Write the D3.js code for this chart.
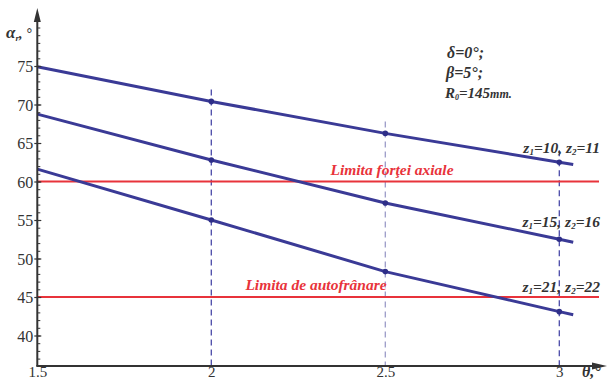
<!DOCTYPE html>
<html>
<head>
<meta charset="utf-8">
<script src="https://cdn.jsdelivr.net/npm/d3@7"></script>
<style>
  html, body { margin: 0; padding: 0; background: #fff; }
  svg { display: block; }
  text { font-family: "Liberation Serif", "DejaVu Serif", serif; }
</style>
</head>
<body>
<svg id="chart" width="610" height="381"></svg>
<script>
// θ values (degrees) at which the angle was computed; last entry is the short run-out past 3
const theta = [1.5, 2, 2.5, 3, 3.04];
// α_r (degrees) for each tooth-number pair
const seriesZ10 = [74.9, 70.4, 66.25, 62.5, 62.2];
const seriesZ15 = [68.75, 62.8, 57.2, 52.5, 52.1];
const seriesZ21 = [61.6, 55.0, 48.3, 43.1, 42.7];
const seriesLabels = [["10", "11"], ["15", "16"], ["21", "22"]];
// horizontal limits
const limitValues = [60, 45];
const limitLabels = ["Limita forţei axiale", "Limita de autofrânare"];
// axis ticks
const xTicks = [1.5, 2, 2.5, 3];
const xTickLabels = ["1.5", "2", "2.5", "3"];
const yTicks = [40, 45, 50, 55, 60, 65, 70, 75];
const yMinor = d3.range(37, 81, 1);
// marked θ positions (dashed guides)
const guideTheta = [2, 2.5, 3];

const svg = d3.select("#chart");
const x = d3.scaleLinear().domain([1.5, 3]).range([37.3, 559.3]);
const y = d3.scaleLinear().domain([40, 75]).range([335.5, 66]);
const axisY0 = 366, axisX0 = 37.3;

const blue = "#3a3a96";
const red = "#e8333b";
const ink = "#333";

// dashed vertical guides
const guideColors = ["#4a4aa8", "#9c9cc8", "#4a4aa8"];
guideTheta.forEach((t, i) => {
  const v = seriesZ10[theta.indexOf(t)];
  svg.append("line")
    .attr("x1", x(t)).attr("x2", x(t))
    .attr("y1", y(v) - 12).attr("y2", axisY0)
    .attr("stroke", guideColors[i]).attr("stroke-width", 1.3)
    .attr("stroke-dasharray", "6,4");
});

// limit lines
limitValues.forEach(v => {
  svg.append("line")
    .attr("x1", axisX0).attr("x2", 599)
    .attr("y1", y(v)).attr("y2", y(v))
    .attr("stroke", red).attr("stroke-width", 2);
});
svg.append("text").attr("x", 392).attr("y", y(limitValues[0]) - 7)
  .attr("text-anchor", "middle").attr("fill", red)
  .attr("font-size", 15.5).attr("font-style", "italic").attr("font-weight", "bold")
  .text(limitLabels[0]);
svg.append("text").attr("x", 316).attr("y", y(limitValues[1]) - 7)
  .attr("text-anchor", "middle").attr("fill", red)
  .attr("font-size", 15.5).attr("font-style", "italic").attr("font-weight", "bold")
  .text(limitLabels[1]);

// series lines
const line = d3.line()
  .x((d, i) => x(theta[i]))
  .y(d => y(d))
  .curve(d3.curveLinear);
const allSeries = [seriesZ10, seriesZ15, seriesZ21];
allSeries.forEach(s => {
  svg.append("path").datum(s)
    .attr("d", line)
    .attr("fill", "none").attr("stroke", blue)
    .attr("stroke-width", 3).attr("stroke-linejoin", "round");
  svg.selectAll(null).data(guideTheta).enter().append("circle")
    .attr("cx", t => x(t)).attr("cy", t => y(s[theta.indexOf(t)]))
    .attr("r", 2.8).attr("fill", "#2e2e88");
});

// series labels (z1=.., z2=..)
const labelY = [153, 227, 292];
seriesLabels.forEach((p, i) => {
  const t = svg.append("text").attr("x", 600).attr("y", labelY[i])
    .attr("text-anchor", "end").attr("fill", ink)
    .attr("font-size", 15.5).attr("font-style", "italic").attr("font-weight", "bold");
  t.append("tspan").text("z");
  t.append("tspan").attr("font-size", 9).attr("dy", 2).text("1");
  t.append("tspan").attr("dy", -2).text("=" + p[0] + ", z");
  t.append("tspan").attr("font-size", 9).attr("dy", 2).text("2");
  t.append("tspan").attr("dy", -2).text("=" + p[1]);
});

// parameter block
const params = svg.append("g").attr("fill", ink)
  .attr("font-style", "italic").attr("font-weight", "bold");
params.append("text").attr("x", 447).attr("y", 58).attr("font-size", 16).text("δ=0°;");
params.append("text").attr("x", 446).attr("y", 78).attr("font-size", 16).text("β=5°;");
const rt = params.append("text").attr("x", 445).attr("y", 98).attr("font-size", 15);
rt.append("tspan").text("R");
rt.append("tspan").attr("font-size", 8).attr("dy", 2).text("0");
rt.append("tspan").attr("dy", -2).text("=145");
rt.append("tspan").attr("font-size", 12).text("mm.");

// axes
svg.append("line").attr("x1", axisX0).attr("x2", axisX0)
  .attr("y1", axisY0).attr("y2", 14).attr("stroke", ink).attr("stroke-width", 2);
svg.append("path").attr("d", `M${axisX0},8 L${axisX0 - 3.5},22 L${axisX0 + 3.5},22 Z`).attr("fill", ink);
svg.append("line").attr("x1", axisX0 - 1).attr("x2", 600)
  .attr("y1", axisY0).attr("y2", axisY0).attr("stroke", ink).attr("stroke-width", 2);
svg.append("path").attr("d", `M607,${axisY0} L592,${axisY0 - 3.5} L592,${axisY0 + 3.5} Z`).attr("fill", ink);

// y ticks via d3 axis
const yAxisMinor = d3.axisRight(y).tickValues(yMinor).tickSize(3).tickFormat("");
svg.append("g").attr("transform", `translate(${axisX0},0)`).call(yAxisMinor)
  .call(g => g.select(".domain").remove())
  .selectAll("line").attr("stroke", ink).attr("stroke-width", 1);
const yAxis = d3.axisLeft(y).tickValues(yTicks).tickSize(3).tickPadding(1).tickFormat(d3.format("d"));
svg.append("g").attr("transform", `translate(${axisX0},0)`).call(yAxis)
  .call(g => g.select(".domain").remove())
  .call(g => g.selectAll("line").attr("stroke", ink).attr("stroke-width", 1.2).attr("x2", 4).attr("x1", -3))
  .call(g => g.selectAll("text").attr("fill", ink).attr("font-size", 16)
    .attr("font-family", "Liberation Serif, serif").attr("dy", "0.35em"));

// x tick labels
const xAxis = d3.axisBottom(x).tickValues(xTicks).tickSize(0).tickPadding(0)
  .tickFormat((d, i) => xTickLabels[i]);
svg.append("g").attr("transform", `translate(0,${axisY0})`).call(xAxis)
  .call(g => g.select(".domain").remove())
  .call(g => g.selectAll("text").attr("fill", ink).attr("font-size", 15)
    .attr("font-family", "Liberation Serif, serif").attr("dy", null).attr("y", 11));

// axis titles
const yt = svg.append("text").attr("x", 6).attr("y", 38).attr("fill", ink)
  .attr("font-style", "italic").attr("font-weight", "bold").attr("font-size", 17);
yt.append("tspan").text("α");
yt.append("tspan").attr("font-size", 9).attr("dy", 3).text("r");
yt.append("tspan").attr("dy", -3).attr("font-size", 14).text(", °");
svg.append("text").attr("x", 582).attr("y", 377).attr("fill", ink)
  .attr("font-style", "italic").attr("font-weight", "bold").attr("font-size", 16)
  .text("θ,°");
</script>
</body>
</html>
